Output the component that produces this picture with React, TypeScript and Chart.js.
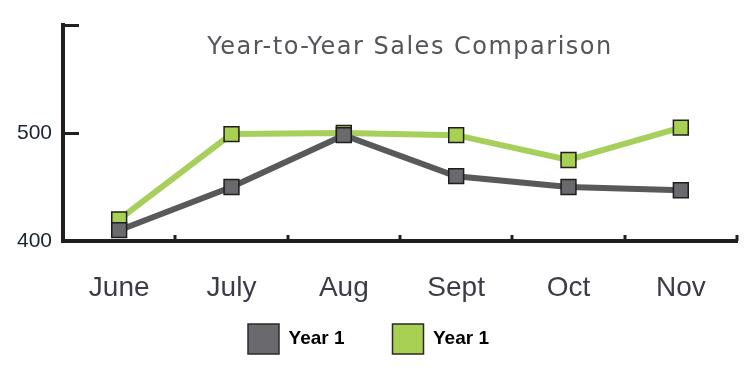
import React, { useEffect, useRef } from 'react';
import { Chart, registerables } from 'chart.js';

Chart.register(...registerables);

const months = ['June', 'July', 'Aug', 'Sept', 'Oct', 'Nov'];
const year1Values = [410, 450, 498, 460, 450, 447];
const year2Values = [420, 499, 500, 498, 475, 505];
const seriesLabels = ['Year 1', 'Year 1'];
const yTickValues = [400, 500, 600];
const yTickLabels = ['400', '500', ''];
const chartTitle = 'Year-to-Year Sales Comparison';

const AXIS_COLOR = '#231f20';

const decorPlugin = {
  id: 'decor',
  afterDraw(chart: any) {
    const { ctx, chartArea, scales } = chart;
    const x = scales.x;
    const y = scales.y;
    ctx.save();
    ctx.strokeStyle = AXIS_COLOR;
    ctx.lineWidth = 3;
    for (let i = 0; i < months.length; i++) {
      const px = Math.round(x.getPixelForValue(i + 0.5));
      ctx.beginPath();
      ctx.moveTo(px, chartArea.bottom);
      ctx.lineTo(px, chartArea.bottom - 6);
      ctx.stroke();
    }
    yTickValues.forEach((v) => {
      if (v === y.min) return;
      const py = Math.round(y.getPixelForValue(v)) + 0.5;
      ctx.beginPath();
      ctx.moveTo(chartArea.left, py);
      ctx.lineTo(chartArea.left + 16, py);
      ctx.stroke();
    });
    ctx.fillStyle = '#54565b';
    ctx.font = "24px 'DejaVu Sans', sans-serif";
    try { (ctx as any).letterSpacing = '1.5px'; } catch (e) {}
    ctx.textAlign = 'center';
    ctx.textBaseline = 'alphabetic';
    ctx.fillText(chartTitle, (chartArea.left + chartArea.right) / 2 + 10, chartArea.top + 29);
    ctx.restore();
  },
};

export default function App() {
  const canvasRef = useRef<HTMLCanvasElement | null>(null);

  useEffect(() => {
    if (!canvasRef.current) return;
    const chart = new Chart(canvasRef.current, {
      type: 'line',
      data: {
        labels: months,
        datasets: [
          {
            label: seriesLabels[0],
            data: year1Values,
            borderColor: '#59595c',
            backgroundColor: '#6a6a6e',
            borderWidth: 6,
            tension: 0,
            pointStyle: 'rect',
            pointRadius: 10.5,
            pointHoverRadius: 10.5,
            pointBackgroundColor: '#6a6a6e',
            pointBorderColor: '#1e1e1e',
            pointBorderWidth: 1.5,
          },
          {
            label: seriesLabels[1],
            data: year2Values,
            borderColor: '#a7cf5b',
            backgroundColor: '#a8d153',
            borderWidth: 6,
            tension: 0,
            pointStyle: 'rect',
            pointRadius: 10.5,
            pointHoverRadius: 10.5,
            pointBackgroundColor: '#a8d153',
            pointBorderColor: '#1e1e1e',
            pointBorderWidth: 1.5,
          },
        ],
      },
      options: {
        responsive: false,
        animation: false,
        layout: { padding: { left: 0, right: 12, top: 25, bottom: 16 } },
        plugins: {
          title: { display: false },
          tooltip: { enabled: false },
          legend: {
            display: true,
            position: 'bottom',
            labels: {
              boxWidth: 31,
              boxHeight: 30,
              padding: 48,
              color: '#000000',
              font: { family: "'Liberation Sans', Arial, sans-serif", size: 19, weight: 'bold' },
              generateLabels: (c: any) =>
                c.data.datasets.map((ds: any, i: number) => ({
                  text: ds.label,
                  fillStyle: ds.pointBackgroundColor,
                  strokeStyle: '#2a2a2a',
                  lineWidth: 1.5,
                  hidden: false,
                  datasetIndex: i,
                  fontColor: '#000000',
                })),
            },
          },
        },
        scales: {
          x: {
            type: 'category',
            offset: true,
            grid: { display: true, drawOnChartArea: false, drawTicks: false },
            border: { display: true, color: AXIS_COLOR, width: 4 },
            ticks: {
              padding: 30,
              color: '#3a3d45',
              font: { family: "'Liberation Sans', Arial, sans-serif", size: 28 },
              maxRotation: 0,
              autoSkip: false,
            },
            afterFit: (scale: any) => {
              scale.height = 35;
              // let the tick labels extend below the (short) axis box
              scale._computeLabelArea = () => undefined;
            },
          },
          y: {
            type: 'linear',
            min: yTickValues[0],
            max: yTickValues[yTickValues.length - 1],
            grid: { display: true, drawOnChartArea: false, drawTicks: false },
            border: { display: true, color: AXIS_COLOR, width: 4 },
            afterBuildTicks: (scale: any) => {
              scale.ticks = yTickValues.map((v) => ({ value: v }));
            },
            ticks: {
              padding: 11,
              color: '#1c2333',
              font: { family: "'Liberation Sans', Arial, sans-serif", size: 21 },
              callback: (value: any) => {
                const idx = yTickValues.indexOf(Number(value));
                return idx >= 0 ? yTickLabels[idx] : '';
              },
            },
            afterFit: (scale: any) => {
              scale.width = 63;
            },
          },
        },
      },
      plugins: [decorPlugin],
    });
    return () => chart.destroy();
  }, []);

  return (
    <div style={{ position: 'absolute', left: 0, top: 0, width: 749, height: 380, background: '#ffffff' }}>
      <canvas ref={canvasRef} width={749} height={380} style={{ display: 'block' }} />
    </div>
  );
}
